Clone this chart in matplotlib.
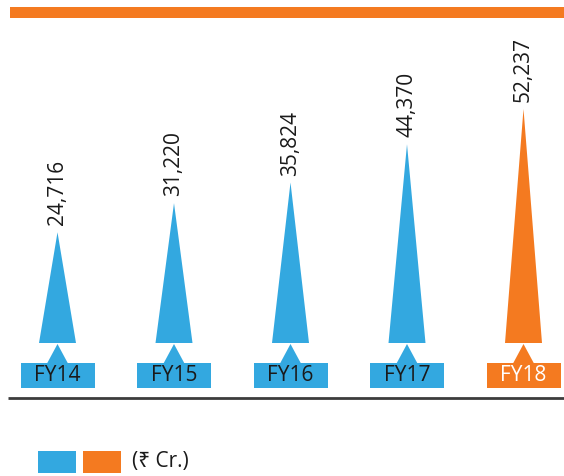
import matplotlib
matplotlib.use("Agg")
import matplotlib.pyplot as plt
from matplotlib.patches import Polygon, Rectangle

# ---- data ----
categories = ["FY14", "FY15", "FY16", "FY17", "FY18"]
values = [24716, 31220, 35824, 44370, 52237]
value_labels = ["24,716", "31,220", "35,824", "44,370", "52,237"]
highlight = [False, False, False, False, True]
legend_text = "(₹ Cr.)"

BLUE = "#33A8E0"
ORANGE = "#F47A20"
TEXT = "#1A1A1A"

W, H = 564, 476
fig = plt.figure(figsize=(W / 100, H / 100), dpi=100)
ax = fig.add_axes([0, 0, 1, 1])
ax.set_axis_off()

# layout (pixels): first centre, spacing, baseline y (from top), px per unit
x0, dx = 57.5, 116.5
base_px = 343.0
scale = 0.00448

ax.set_xlim(-x0 / dx, (W - x0) / dx)
ax.set_ylim(-(H - base_px) / scale, base_px / scale)

def px_x(p):
    return (p - x0) / dx

def px_y(p):  # pixel from top -> data y
    return (base_px - p) / scale

FONT = ["Open Sans", "Noto Sans", "DejaVu Sans"]
half_w = 18.5 / dx
for i, (v, lab, hl) in enumerate(zip(values, value_labels, highlight)):
    c = ORANGE if hl else BLUE
    ax.add_patch(Polygon([(i - half_w, 0), (i + half_w, 0), (i, v)],
                         closed=True, facecolor=c, edgecolor="none"))
    ax.text(i, v + 7 / scale, lab, rotation=90, ha="center", va="bottom",
            fontsize=15, color=TEXT, family=FONT)
    # notch
    nh = 10.5 / dx
    ax.add_patch(Polygon([(i - nh, px_y(363.5)), (i + nh, px_y(363.5)), (i, px_y(344))],
                         closed=True, facecolor=c, edgecolor="none"))
    # label box
    bw = 37 / dx
    ax.add_patch(Rectangle((i - bw, px_y(388)), 2 * bw, px_y(363) - px_y(388),
                           facecolor=c, edgecolor="none"))
    ax.text(i, (px_y(363) + px_y(388)) / 2, categories[i], ha="center", va="center",
            fontsize=15, color="white" if hl else TEXT, family=FONT)

# baseline
ax.plot([px_x(8), px_x(564)], [px_y(398), px_y(398)], color="#3C3C3C", lw=2,
        solid_capstyle="butt")
# top orange band
ax.add_patch(Rectangle((px_x(10), px_y(18)), px_x(564) - px_x(10), px_y(7) - px_y(18),
                       facecolor=ORANGE, edgecolor="none", clip_on=False))

# legend
ax.add_patch(Rectangle((px_x(38), px_y(473)), px_x(76) - px_x(38), px_y(451) - px_y(473),
                       facecolor=BLUE, edgecolor="none"))
ax.add_patch(Rectangle((px_x(83), px_y(473)), px_x(121) - px_x(83), px_y(451) - px_y(473),
                       facecolor=ORANGE, edgecolor="none"))
ax.text(px_x(132), px_y(462), legend_text, ha="left", va="center", fontsize=15,
        color=TEXT, family=FONT)

fig.savefig("out.png", dpi=100)
